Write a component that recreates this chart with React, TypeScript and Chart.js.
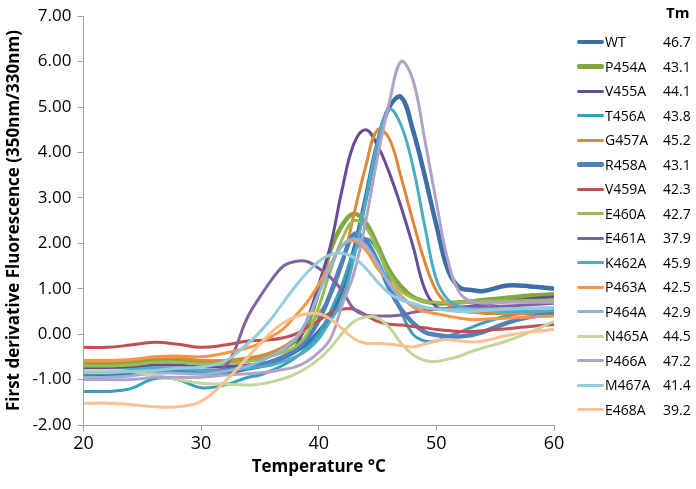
import { useEffect, useRef } from 'react';
import { Chart, registerables } from 'chart.js';

Chart.register(...registerables);

const temps = [20, 22, 24, 26, 28, 30, 32, 34, 35, 36, 37, 38, 39, 40, 41, 42, 43, 44, 45, 46, 47, 48, 49, 50, 51, 52, 53, 54, 56, 58, 60];

const seriesNames = ['WT', 'P454A', 'V455A', 'T456A', 'G457A', 'R458A', 'V459A', 'E460A', 'E461A', 'K462A', 'P463A', 'P464A', 'N465A', 'P466A', 'M467A', 'E468A'];
const tmValues = ['46.7', '43.1', '44.1', '43.8', '45.2', '43.1', '42.3', '42.7', '37.9', '45.9', '42.5', '42.9', '44.5', '47.2', '41.4', '39.2'];

const WT = [-0.88, -0.88, -0.86, -0.8, -0.8, -0.85, -0.85, -0.75, -0.7, -0.62, -0.52, -0.38, -0.2, 0.05, 0.4, 1.0, 1.85, 3.0, 4.2, 5.0, 5.22, 4.5, 3.5, 2.4, 1.4, 1.02, 0.97, 0.95, 1.07, 1.05, 1.0];
const P454A = [-0.65, -0.65, -0.63, -0.55, -0.55, -0.6, -0.6, -0.55, -0.5, -0.42, -0.32, -0.15, 0.2, 0.95, 1.85, 2.4, 2.65, 2.45, 1.95, 1.4, 1.05, 0.82, 0.72, 0.68, 0.68, 0.7, 0.72, 0.75, 0.8, 0.85, 0.88];
const V455A = [-0.75, -0.75, -0.73, -0.68, -0.68, -0.72, -0.72, -0.68, -0.65, -0.6, -0.5, -0.3, 0.3, 1.1, 1.95, 3.2, 4.2, 4.5, 4.15, 3.55, 2.8, 1.95, 1.0, 0.6, 0.55, 0.58, 0.62, 0.65, 0.72, 0.78, 0.82];
const T456A = [-1.26, -1.26, -1.2, -0.98, -1.0, -1.18, -1.12, -0.95, -0.9, -0.8, -0.68, -0.52, -0.3, 0.0, 0.5, 1.1, 1.8, 2.1, 1.85, 1.2, 0.5, 0.0, -0.15, -0.15, -0.05, 0.05, 0.15, 0.25, 0.4, 0.48, 0.5];
const G457A = [-0.6, -0.6, -0.58, -0.52, -0.52, -0.58, -0.58, -0.52, -0.48, -0.4, -0.28, -0.1, 0.15, 0.45, 0.85, 1.55, 2.65, 3.7, 4.5, 4.3, 3.45, 2.5, 1.6, 0.95, 0.65, 0.52, 0.48, 0.46, 0.45, 0.45, 0.45];
const R458A = [-0.85, -0.85, -0.83, -0.78, -0.78, -0.82, -0.8, -0.72, -0.68, -0.6, -0.5, -0.35, -0.1, 0.3, 0.9, 1.6, 2.2, 2.05, 1.6, 1.0, 0.55, 0.25, 0.05, -0.02, -0.05, -0.05, -0.02, 0.05, 0.25, 0.38, 0.45];
const V459A = [-0.29, -0.29, -0.24, -0.18, -0.22, -0.29, -0.24, -0.15, -0.14, -0.12, -0.08, 0.0, 0.15, 0.3, 0.47, 0.55, 0.55, 0.42, 0.28, 0.22, 0.2, 0.17, 0.14, 0.1, 0.08, 0.06, 0.06, 0.08, 0.12, 0.17, 0.21];
const E460A = [-0.7, -0.7, -0.68, -0.62, -0.62, -0.66, -0.65, -0.6, -0.55, -0.48, -0.4, -0.28, 0.0, 0.6, 1.4, 2.1, 2.5, 2.35, 1.85, 1.3, 0.95, 0.8, 0.72, 0.7, 0.7, 0.7, 0.7, 0.72, 0.73, 0.74, 0.75];
const E461A = [-0.85, -0.85, -0.8, -0.75, -0.75, -0.8, -0.72, 0.4, 0.82, 1.2, 1.5, 1.6, 1.6, 1.45, 1.25, 0.95, 0.55, 0.42, 0.4, 0.4, 0.42, 0.48, 0.52, 0.55, 0.57, 0.6, 0.6, 0.6, 0.62, 0.65, 0.68];
const K462A = [-0.8, -0.8, -0.78, -0.74, -0.76, -0.8, -0.8, -0.75, -0.72, -0.68, -0.6, -0.5, -0.35, -0.1, 0.3, 0.75, 1.7, 2.95, 4.2, 4.95, 4.6, 3.7, 2.4, 1.2, 0.75, 0.6, 0.55, 0.52, 0.5, 0.5, 0.52];
const P463A = [-0.58, -0.58, -0.56, -0.5, -0.48, -0.5, -0.42, -0.3, -0.2, -0.05, 0.12, 0.4, 0.7, 1.1, 1.55, 1.95, 2.05, 1.85, 1.45, 1.15, 0.85, 0.6, 0.5, 0.45, 0.4, 0.35, 0.32, 0.33, 0.35, 0.38, 0.4];
const P464A = [-0.95, -0.95, -0.92, -0.86, -0.86, -0.88, -0.82, -0.7, -0.6, -0.48, -0.32, -0.1, 0.3, 0.9, 1.5, 1.95, 2.1, 1.95, 1.55, 1.1, 0.8, 0.65, 0.58, 0.55, 0.55, 0.55, 0.55, 0.55, 0.56, 0.57, 0.58];
const N465A = [-0.8, -0.8, -0.82, -0.9, -1.0, -1.08, -1.1, -1.12, -1.1, -1.05, -0.98, -0.88, -0.74, -0.55, -0.3, 0.02, 0.28, 0.38, 0.36, 0.15, -0.2, -0.45, -0.58, -0.6, -0.55, -0.48, -0.38, -0.3, -0.15, 0.05, 0.28];
const P466A = [-1.0, -1.0, -1.0, -0.95, -0.95, -0.95, -0.9, -0.87, -0.85, -0.82, -0.78, -0.72, -0.6, -0.4, -0.1, 0.65, 1.35, 2.5, 3.9, 5.1, 6.0, 5.6, 4.3, 2.9, 1.6, 0.9, 0.72, 0.68, 0.7, 0.7, 0.7];
const M467A = [-0.85, -0.85, -0.82, -0.8, -0.75, -0.72, -0.6, -0.2, 0.05, 0.35, 0.7, 1.05, 1.35, 1.6, 1.75, 1.78, 1.68, 1.45, 1.15, 0.9, 0.75, 0.68, 0.6, 0.55, 0.52, 0.5, 0.5, 0.52, 0.55, 0.57, 0.58];
const E468A = [-1.52, -1.52, -1.55, -1.6, -1.6, -1.48, -1.05, -0.5, -0.22, 0.05, 0.25, 0.38, 0.45, 0.45, 0.33, 0.12, -0.1, -0.2, -0.2, -0.22, -0.25, -0.28, -0.22, -0.15, -0.12, -0.15, -0.17, -0.15, -0.03, 0.05, 0.1];

const seriesValues = [WT, P454A, V455A, T456A, G457A, R458A, V459A, E460A, E461A, K462A, P463A, P464A, N465A, P466A, M467A, E468A];

const colors = ['#3D6FA6', '#7FA83E', '#6A4C96', '#3A9FBA', '#E0883A', '#4F81BD', '#C0504D', '#9BBB59', '#8064A2', '#4BACC6', '#F79646', '#95B3D7', '#C3D69B', '#B3A2C7', '#93CDDD', '#FAC090'];
const widths = [4.5, 4.5, 3, 3, 3, 4.5, 3, 3, 3, 3, 3, 3, 3, 3, 3, 3];

const FONT = "'Open Sans', sans-serif";

export default function App() {
  const ref = useRef<HTMLCanvasElement>(null);

  useEffect(() => {
    document.body.style.margin = '0';
    const chart = new Chart(ref.current!, {
      type: 'line',
      data: {
        datasets: seriesValues.map((vals, i) => ({
          label: seriesNames[i],
          data: vals.map((y, j) => ({ x: temps[j], y })),
          borderColor: colors[i],
          backgroundColor: colors[i],
          borderWidth: widths[i],
          pointRadius: 0,
          tension: 0.4,
          fill: false,
          order: seriesValues.length - i,
        })),
      },
      options: {
        responsive: false,
        animation: false,
        events: [],
        layout: { padding: { left: 2, right: 142, top: 8, bottom: 12 } },
        plugins: { legend: { display: false }, tooltip: { enabled: false } },
        scales: {
          x: {
            type: 'linear',
            min: 20,
            max: 60,
            ticks: { stepSize: 10, font: { family: FONT, size: 18 }, color: '#000', padding: 2 },
            grid: { drawOnChartArea: false, color: '#A0A0A0', tickLength: 6 },
            border: { color: '#A0A0A0' },
            title: { display: true, text: 'Temperature °C', font: { family: FONT, size: 17, weight: 'bold' }, color: '#000', padding: 0 },
          },
          y: {
            min: -2,
            max: 7,
            ticks: { stepSize: 1, font: { family: FONT, size: 17 }, color: '#000', padding: 6, callback: (v: any) => Number(v).toFixed(2) },
            grid: { drawOnChartArea: false, color: '#A0A0A0', tickLength: 6 },
            border: { color: '#A0A0A0' },
            title: { display: true, text: 'First derivative Fluorescence (350nm/330nm)', font: { family: FONT, size: 17, weight: 'bold' }, color: '#000', padding: 2 },
          },
        },
      },
    });
    return () => chart.destroy();
  }, []);

  return (
    <div style={{ position: 'relative', width: 696, height: 489, background: '#fff', fontFamily: FONT }}>
      <canvas ref={ref} width={696} height={489} style={{ display: 'block' }} />
      <div style={{ position: 'absolute', left: 666, top: 2, fontSize: 15, fontWeight: 'bold', lineHeight: '20px' }}>Tm</div>
      {seriesNames.map((name, i) => {
        const cy = 42 + i * 24.5;
        return (
          <div key={name}>
            <div style={{ position: 'absolute', left: 577, top: cy - widths[i] / 2, width: 27, height: widths[i], background: colors[i], borderRadius: 2 }} />
            <div style={{ position: 'absolute', left: 605, top: cy - 10, fontSize: 14, lineHeight: '20px', color: '#000' }}>{name}</div>
            <div style={{ position: 'absolute', left: 663, top: cy - 10, fontSize: 14, lineHeight: '20px', color: '#000' }}>{tmValues[i]}</div>
          </div>
        );
      })}
    </div>
  );
}
